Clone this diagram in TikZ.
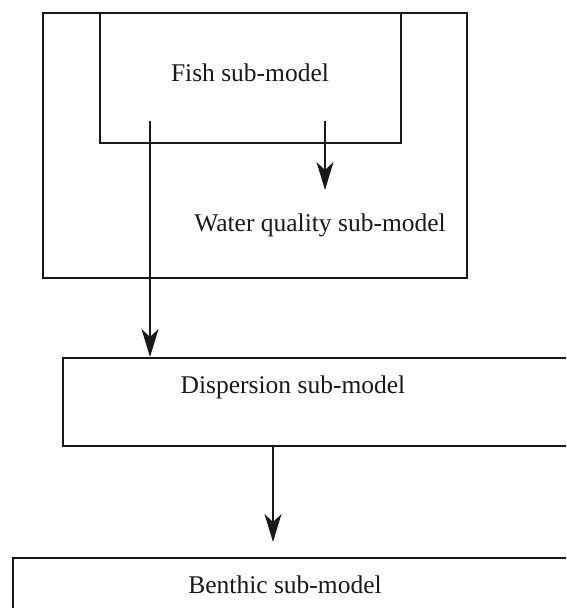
\documentclass[tikz,border=0pt]{standalone}
\usepackage{fontspec}
\setmainfont{Liberation Serif}
\usetikzlibrary{arrows.meta}

\begin{document}
\begin{tikzpicture}[x=1pt,y=-1pt,
  box/.style={draw=black!90,line width=1.8pt,inner sep=0pt,anchor=north west},
  lbl/.style={inner sep=0pt,anchor=base,text=black!90,font=\fontsize{25.5}{30}\selectfont},
  arr/.style={draw=black!90,line width=1.8pt,-{Stealth[length=28pt,width=17pt,inset=8pt]}}]
\useasboundingbox (0,0) rectangle (566,608);
\clip (0,0) rectangle (566,608);

\node[box,minimum width=424pt,minimum height=265pt] at (42,12) (water) {};
\node[box,minimum width=301pt,minimum height=130pt] at (99,12) (fish) {};
\node[box,minimum width=520pt,minimum height=88pt] at (62,357) (disp) {};
\node[box,minimum width=570pt,minimum height=80pt] at (12,557) (benth) {};

\node[lbl] at (250,81) (fishlbl) {Fish sub-model};
\node[lbl] at (320,231) (waterlbl) {Water quality sub-model};
\node[lbl] at (293,393) (displbl) {Dispersion sub-model};
\node[lbl] at (285,593) (benthlbl) {Benthic sub-model};

\coordinate (a) at (150,121);
\coordinate (b) at (325,121);
\coordinate (c) at (325,190);
\coordinate (d) at (273,542);

\draw[arr] (a) -- (a |- disp.north);
\draw[arr] (b) -- (c);
\draw[arr] (disp.south -| d) -- (d);
\end{tikzpicture}
\end{document}
